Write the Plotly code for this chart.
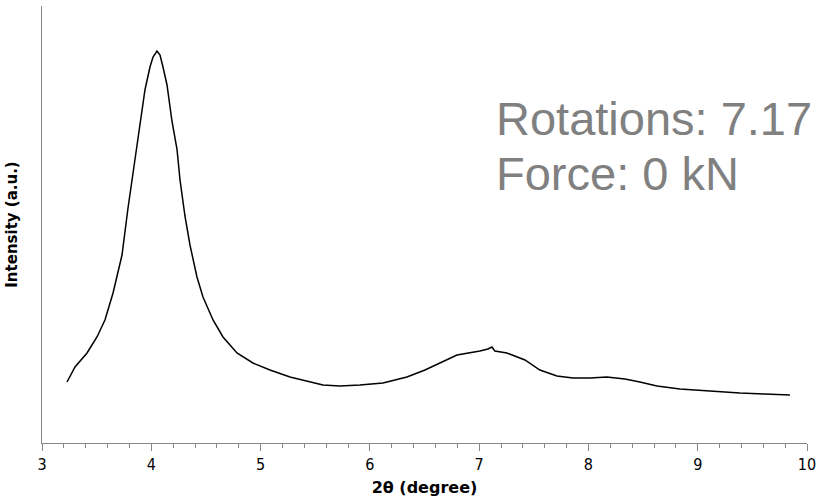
import plotly.graph_objects as go

two_theta = [3.229, 3.302, 3.412, 3.503, 3.576, 3.650, 3.732, 3.759, 3.787, 3.833,
             3.878, 3.915, 3.942, 3.988, 4.016, 4.052, 4.080, 4.107, 4.144, 4.189,
             4.235, 4.263, 4.308, 4.354, 4.418, 4.473, 4.565, 4.656, 4.784, 4.930,
             5.086, 5.269, 5.571, 5.726, 5.909, 6.120, 6.339, 6.504, 6.641, 6.797,
             7.007, 7.080, 7.117, 7.144, 7.254, 7.419, 7.556, 7.712, 7.858, 8.014,
             8.169, 8.334, 8.471, 8.627, 8.837, 9.084, 9.386, 9.615, 9.844]
intensity = [61, 76, 90, 106, 123, 150, 188, 213, 235, 270,
             303, 334, 353, 376, 386, 392, 388, 376, 358, 322,
             294, 263, 227, 198, 166, 146, 123, 106, 90, 80,
             73, 66, 58, 57, 58, 60, 66, 73, 80, 88,
             92, 94, 96, 92, 90, 83, 73, 67, 65, 65,
             66, 64, 61, 57, 54, 52, 50, 49, 48]

x_ticks = [3, 4, 5, 6, 7, 8, 9, 10]
label_lines = ["Rotations: 7.17", "Force: 0 kN"]
label_x = 7.135
label_y = [325, 270]

fig = go.Figure()
fig.add_trace(go.Scatter(x=two_theta, y=intensity, mode="lines",
                         line=dict(color="black", width=1.5),
                         showlegend=False, hoverinfo="skip"))

for txt, yy in zip(label_lines, label_y):
    fig.add_annotation(x=label_x, y=yy, xref="x", yref="y", text=txt,
                       showarrow=False, xanchor="left", yanchor="middle",
                       font=dict(family="Liberation Sans, Arial", size=47, color="#808080"))

fig.update_layout(
    width=819, height=504,
    margin=dict(l=42, r=12, t=6, b=61),
    paper_bgcolor="white", plot_bgcolor="white",
    font=dict(family="DejaVu Sans", color="black"),
)
fig.update_xaxes(range=[3, 10], tickvals=x_ticks, ticktext=[str(t) for t in x_ticks],
                 automargin=False,
                 showline=True, linecolor="#888888", linewidth=1,
                 ticks="outside", ticklen=7, tickcolor="#888888", tickwidth=1,
                 minor=dict(dtick=0.2, ticks="outside", ticklen=4, tickcolor="#888888", tickwidth=1),
                 showgrid=False, zeroline=False,
                 tickfont=dict(size=16, family="DejaVu Sans Condensed, DejaVu Sans"),
                 title=dict(text="<b>2θ (degree)</b>", standoff=8,
                            font=dict(size=16, family="DejaVu Sans")))
fig.update_yaxes(range=[0, 437], automargin=False,
                 showline=True, linecolor="#888888", linewidth=1,
                 showticklabels=False, ticks="", showgrid=False, zeroline=False,
                 title=dict(text="<b>Intensity (a.u.)</b>", standoff=19,
                            font=dict(size=15, family="DejaVu Sans")))

fig.write_html("out.html", config={"displayModeBar": False},
               post_script="document.body.style.margin='0px';document.body.style.overflow='hidden';")
